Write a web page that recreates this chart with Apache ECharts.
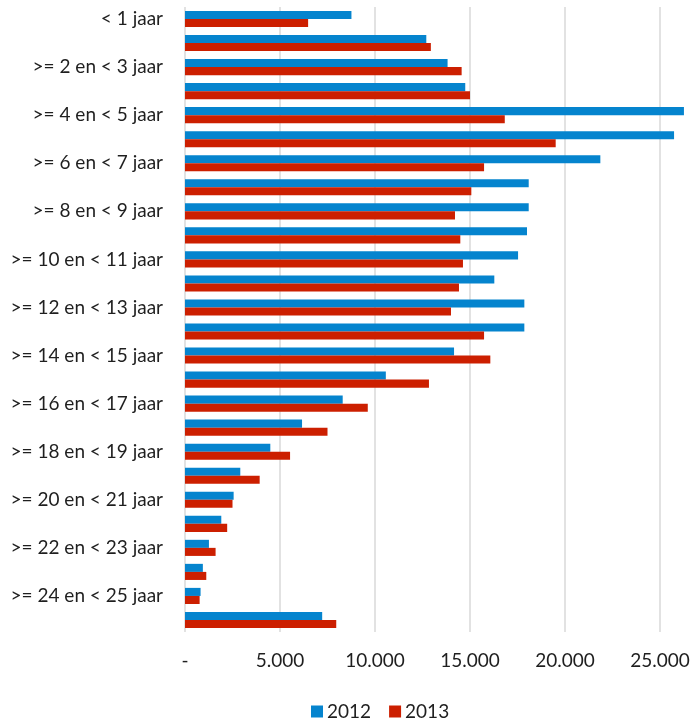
<!DOCTYPE html>
<html>
<head>
<meta charset="utf-8">
<script src="https://cdn.jsdelivr.net/npm/echarts@6/dist/echarts.min.js"></script>
<style>
  html, body { margin: 0; padding: 0; background: #ffffff; }
  #chart { width: 692px; height: 723px; }
</style>
</head>
<body>
<div id="chart"></div>
<script>
// Age bands (years of service), top to bottom
const categories = [
  '< 1 jaar', '>= 1 en < 2 jaar', '>= 2 en < 3 jaar', '>= 3 en < 4 jaar',
  '>= 4 en < 5 jaar', '>= 5 en < 6 jaar', '>= 6 en < 7 jaar', '>= 7 en < 8 jaar',
  '>= 8 en < 9 jaar', '>= 9 en < 10 jaar', '>= 10 en < 11 jaar', '>= 11 en < 12 jaar',
  '>= 12 en < 13 jaar', '>= 13 en < 14 jaar', '>= 14 en < 15 jaar', '>= 15 en < 16 jaar',
  '>= 16 en < 17 jaar', '>= 17 en < 18 jaar', '>= 18 en < 19 jaar', '>= 19 en < 20 jaar',
  '>= 20 en < 21 jaar', '>= 21 en < 22 jaar', '>= 22 en < 23 jaar', '>= 23 en < 24 jaar',
  '>= 24 en < 25 jaar', '>= 25 jaar'
];

const values2012 = [
  8760, 12700, 13820, 14750, 26260, 25740, 21860, 18090, 18090, 18000,
  17530, 16280, 17860, 17860, 14160, 10570, 8300, 6160, 4490, 2910,
  2560, 1910, 1260, 940, 820, 7220
];

const values2013 = [
  6480, 12940, 14560, 15000, 16830, 19510, 15740, 15070, 14210, 14490,
  14630, 14420, 14000, 15740, 16070, 12840, 9620, 7500, 5530, 3930,
  2500, 2220, 1610, 1120, 770, 7960
];

const seriesNames = ['2012', '2013'];

const FONT = 'Lato';
const TEXT = '#1f1f1f';

function fmtThousands(v) {
  if (v === 0) return '-';
  return String(Math.round(v)).replace(/\B(?=(\d{3})+(?!\d))/g, '.');
}

const chart = echarts.init(document.getElementById('chart'), null, { renderer: 'canvas' });

chart.setOption({
  animation: false,
  backgroundColor: '#ffffff',
  textStyle: { fontFamily: FONT },
  color: ['#0584CE', '#CC1F00'],
  // the value axis runs to 30.000; its last stretch lies past the right edge
  grid: {
    left: 185, top: 7, width: 570, bottom: 91,
    containLabel: false,
    outerBoundsMode: 'none'
  },
  legend: {
    data: seriesNames,
    bottom: -3,
    left: 306,
    icon: 'rect',
    itemWidth: 12,
    itemHeight: 12,
    itemGap: 18,
    textStyle: { fontFamily: FONT, fontSize: 19, color: TEXT, padding: [0, 0, 0, -1] }
  },
  xAxis: {
    type: 'value',
    min: 0,
    max: 30000,
    interval: 5000,
    axisLine: { show: false },
    axisTick: { show: false },
    splitLine: { show: true, lineStyle: { color: '#D9D9D9', width: 1.5 } },
    axisLabel: {
      fontFamily: FONT,
      fontSize: 19,
      color: TEXT,
      margin: 19,
      formatter: fmtThousands
    }
  },
  yAxis: {
    type: 'category',
    data: categories,
    inverse: true,
    axisLine: { show: false },
    axisTick: { show: false },
    splitLine: { show: false },
    axisLabel: {
      interval: 1,
      fontFamily: FONT,
      fontSize: 19,
      color: TEXT,
      margin: 22
    }
  },
  series: [
    {
      name: seriesNames[0],
      type: 'bar',
      data: values2012,
      barGap: '0%',
      barCategoryGap: '33%'
    },
    {
      name: seriesNames[1],
      type: 'bar',
      data: values2013,
      barGap: '0%',
      barCategoryGap: '33%'
    }
  ]
});
</script>
</body>
</html>
